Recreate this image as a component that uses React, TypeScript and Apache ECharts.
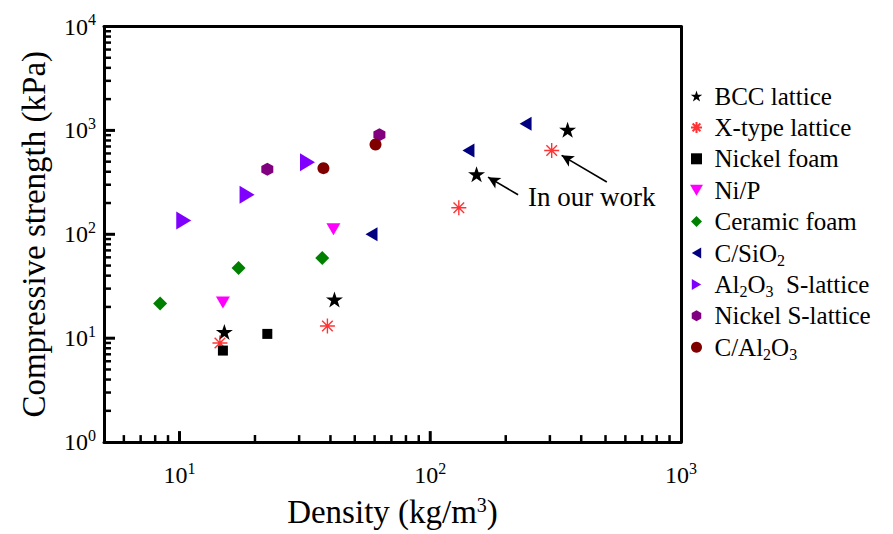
import React, { useEffect, useRef } from 'react';
import * as echarts from 'echarts';

// ---- data (density kg/m^3, compressive strength kPa) ----
const seriesNames = [
  'BCC lattice',
  'X-type lattice',
  'Nickel foam',
  'Ni/P',
  'Ceramic foam',
  'C/SiO2',
  'Al2O3 S-lattice',
  'Nickel S-lattice',
  'C/Al2O3',
];
const legendLabels = [
  'BCC lattice',
  'X-type lattice',
  'Nickel foam',
  'Ni/P',
  'Ceramic foam',
  'C/SiO{sub|2}',
  'Al{sub|2}O{sub|3}  S-lattice',
  'Nickel S-lattice',
  'C/Al{sub|2}O{sub|3}',
];

const bccLattice = [[15.1, 11.5], [41.5, 23.6], [153, 379], [353, 1015]];
const xTypeLattice = [[14.5, 9.0], [38.9, 13.1], [130, 180], [305, 641]];
const nickelFoam = [[14.9, 7.6], [22.4, 11.0]];
const niP = [[14.9, 22.1], [41.1, 112]];
const ceramicFoam = [[8.37, 21.6], [17.2, 47.5], [37.1, 59.2]];
const cSiO2 = [[58.3, 100], [142, 641], [240, 1158]];
const al2o3SLattice = [[10.4, 136], [18.6, 240], [32.4, 494]];
const nickelSLattice = [[22.4, 423], [62.7, 910]];
const cAl2O3 = [[37.5, 433], [60.5, 731]];

const xRange = [5, 1000];
const yRange = [1, 10000];
const xMajorTicks = [10, 100];
const yMajorTicks = [10, 100, 1000];
const xMinorTicks = [6, 7, 8, 9, 20, 30, 40, 50, 60, 70, 80, 90, 200, 300, 400, 500, 600, 700, 800, 900];
const yMinorTicks = [
  2, 3, 4, 5, 6, 7, 8, 9,
  20, 30, 40, 50, 60, 70, 80, 90,
  200, 300, 400, 500, 600, 700, 800, 900,
  2000, 3000, 4000, 5000, 6000, 7000, 8000, 9000,
];

// annotation arrows: [start, end] in data coordinates
const arrows = [
  [[224, 240], [170, 355]],
  [[506, 319], [334, 575]],
];
const annotationText = 'In our work';
const xAxisTitle = 'Density (kg/m{sup|3})';
const yAxisTitle = 'Compressive strength (kPa)';

const STAR = 'path://M0,-1L0.2245,-0.309L0.951,-0.309L0.3633,0.118L0.5878,0.809L0,0.382L-0.5878,0.809L-0.3633,0.118L-0.951,-0.309L-0.2245,-0.309Z';
const ASTERISK = 'path://M0,-1L0,1M-1,0L1,0M-0.707,-0.707L0.707,0.707M-0.707,0.707L0.707,-0.707';
const SQUARE = 'path://M0,0L1,0L1,1L0,1Z';
const DIAMOND = 'path://M1,0L2,1L1,2L0,1Z';
const TRI_DOWN = 'path://M0,0L2,0L1,1.7Z';
const TRI_LEFT = 'path://M0,1L1.7,0L1.7,2Z';
const TRI_RIGHT = 'path://M0,0L1.7,1L0,2Z';
const HEXAGON = 'path://M0.866,0L1.732,0.5L1.732,1.5L0.866,2L0,1.5L0,0.5Z';

const FONT = 'Liberation Serif';

export default function App() {
  const ref = useRef<HTMLDivElement>(null);

  useEffect(() => {
    if (!ref.current) return;
    const chart = echarts.init(ref.current, null, { renderer: 'svg' });

    const pow10Label = (v: number) => {
      const l = Math.log10(v);
      const r = Math.round(l);
      if (Math.abs(l - r) > 1e-6) return '';
      return `10{sup|${r}}`;
    };
    const supRich = {
      sup: { fontSize: 16, lineHeight: 16, verticalAlign: 'top', fontFamily: FONT, color: '#000' },
    };

    const scatter = (
      idx: number,
      data: number[][],
      symbol: string,
      size: number | number[],
      color: string,
      stroke = false
    ): any => ({
      type: 'scatter',
      name: seriesNames[idx],
      data,
      symbol,
      symbolSize: size,
      itemStyle: stroke
        ? { color: 'rgba(0,0,0,0)', borderColor: color, borderWidth: 1.4 }
        : { color, opacity: 1 },
      z: 3,
      silent: true,
    });

    // axis ticks: short bars from the axis inward, placed by the axis scales
    const tickSeries = (vals: number[][], horizontal: boolean, len: number, width: number): any => ({
      type: 'custom',
      coordinateSystem: 'cartesian2d',
      silent: true,
      clip: false,
      z: 20,
      encode: { x: 0, y: 1 },
      data: vals,
      renderItem: (_p: any, api: any) => {
        const pt = api.coord([api.value(0), api.value(1)]);
        return {
          type: 'rect',
          shape: horizontal
            ? { x: pt[0], y: pt[1] - width / 2, width: len, height: width }
            : { x: pt[0] - width / 2, y: pt[1] - len, width, height: len },
          style: { fill: '#000' },
          z2: 20,
        };
      },
    });

    const bcc = scatter(0, bccLattice, STAR, [17, 16], '#000000');
    bcc.markLine = {
      silent: true,
      symbol: ['none', 'arrow'],
      symbolSize: [9, 12],
      lineStyle: { color: '#000', width: 1.6, type: 'solid' },
      label: { show: false },
      emphasis: { disabled: true },
      data: arrows.map(([a, b]) => [{ coord: a }, { coord: b }]),
    };

    const option: any = {
      animation: false,
      backgroundColor: '#ffffff',
      textStyle: { fontFamily: FONT, color: '#000' },
      grid: {
        left: 104,
        right: 212,
        top: 26.5,
        bottom: 86.4,
        show: false,
        containLabel: false,
      },
      legend: {
        orient: 'vertical',
        left: 690,
        top: 81,
        padding: 0,
        itemWidth: 26,
        itemHeight: 11,
        itemGap: 1.4,
        symbolKeepAspect: true,
        selectedMode: false,
        data: seriesNames,
        formatter: (name: string) => legendLabels[seriesNames.indexOf(name)],
        textStyle: {
          fontFamily: FONT,
          fontSize: 25,
          lineHeight: 30,
          color: '#000',
          rich: {
            sub: { fontSize: 16, lineHeight: 16, verticalAlign: 'bottom', fontFamily: FONT, color: '#000' },
          },
        },
      },
      xAxis: [
        {
          type: 'log',
          logBase: 10,
          min: xRange[0],
          max: xRange[1],
          position: 'bottom',
          name: xAxisTitle,
          nameLocation: 'middle',
          nameGap: 45,
          nameTextStyle: {
            fontFamily: FONT,
            fontSize: 33,
            lineHeight: 34,
            color: '#000',
            rich: { sup: { fontSize: 20, lineHeight: 20, verticalAlign: 'top', fontFamily: FONT, color: '#000' } },
          },
          axisLine: { show: true, lineStyle: { color: '#000', width: 3 } },
          axisTick: { show: false },
          axisLabel: {
            formatter: pow10Label,
            margin: 18,
            fontSize: 24,
            lineHeight: 30,
            fontFamily: FONT,
            color: '#000',
            rich: supRich,
          },
          splitLine: { show: false },
          minorTick: { show: false },
          z: 10,
        },
        {
          type: 'log',
          logBase: 10,
          min: xRange[0],
          max: xRange[1],
          position: 'top',
          axisLine: { show: true, lineStyle: { color: '#000', width: 3 } },
          axisTick: { show: false },
          axisLabel: { show: false },
          splitLine: { show: false },
          z: 10,
        },
      ],
      yAxis: [
        {
          type: 'log',
          logBase: 10,
          min: yRange[0],
          max: yRange[1],
          position: 'left',
          name: yAxisTitle,
          nameLocation: 'middle',
          nameRotate: 90,
          nameGap: 54,
          nameTextStyle: { fontFamily: FONT, fontSize: 33, color: '#000' },
          axisLine: { show: true, lineStyle: { color: '#000', width: 3 } },
          axisTick: { show: false },
          axisLabel: {
            formatter: pow10Label,
            margin: 8,
            fontSize: 24,
            lineHeight: 30,
            fontFamily: FONT,
            color: '#000',
            rich: supRich,
          },
          splitLine: { show: false },
          minorTick: { show: false },
          z: 10,
        },
        {
          type: 'log',
          logBase: 10,
          min: yRange[0],
          max: yRange[1],
          position: 'right',
          axisLine: { show: true, lineStyle: { color: '#000', width: 3 } },
          axisTick: { show: false },
          axisLabel: { show: false },
          splitLine: { show: false },
          z: 10,
        },
      ],
      graphic: [
        {
          type: 'text',
          left: 528,
          top: 183,
          style: { text: annotationText, fontSize: 27, fontFamily: FONT, fill: '#000' },
          z: 10,
        },
      ],
      series: [
        bcc,
        scatter(1, xTypeLattice, ASTERISK, [15, 15], '#ff0000', true),
        scatter(2, nickelFoam, SQUARE, [10, 10], '#000000'),
        scatter(3, niP, TRI_DOWN, [14, 12], '#ff00ff'),
        scatter(4, ceramicFoam, DIAMOND, [14, 14], '#008000'),
        scatter(5, cSiO2, TRI_LEFT, [12, 14], '#000080'),
        scatter(6, al2o3SLattice, TRI_RIGHT, [15, 18], '#8000ff'),
        scatter(7, nickelSLattice, HEXAGON, [12, 13], '#800080'),
        scatter(8, cAl2O3, 'circle', 12, '#800000'),
        tickSeries(xMinorTicks.map((v) => [v, yRange[0]]), false, 7, 2.5),
        tickSeries(xMajorTicks.map((v) => [v, yRange[0]]), false, 11, 3),
        tickSeries(yMinorTicks.map((v) => [xRange[0], v]), true, 7, 2.5),
        tickSeries(yMajorTicks.map((v) => [xRange[0], v]), true, 11, 3),
      ],
    };

    chart.setOption(option);
    return () => chart.dispose();
  }, []);

  return (
    <div
      ref={ref}
      style={{ position: 'fixed', left: 0, top: 0, width: 893, height: 534, background: '#fff' }}
    />
  );
}
